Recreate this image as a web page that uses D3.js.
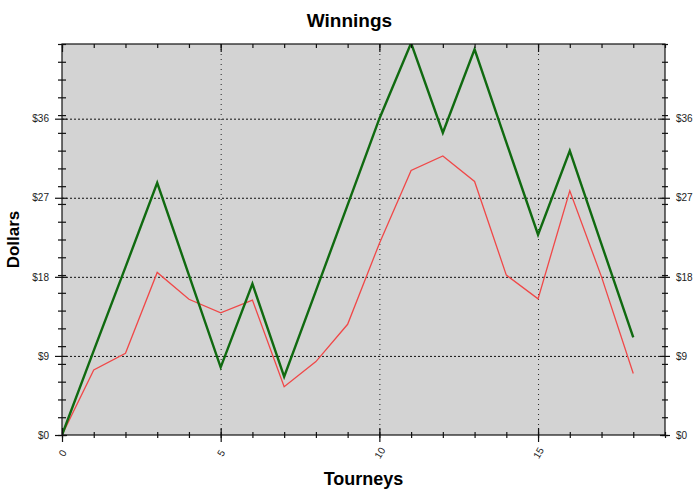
<!DOCTYPE html>
<html>
<head>
<meta charset="utf-8">
<script src="https://cdnjs.cloudflare.com/ajax/libs/d3/7.8.5/d3.min.js"></script>
<style>
body{margin:0;background:#fff;}
#svg{width:700px;height:492px;display:block;font-family:"Liberation Sans",Arial,sans-serif;}
.tick text{font-size:10px;fill:#222;}
</style>
</head>
<body>
<svg id="svg" width="700" height="492"></svg>
<script>
// tourney index and the two series
var tourneys=[0,1,2,3,4,5,6,7,8,9,10,11,12,13,14,15,16,17,18];
var greenQty=[0,9.6,19.1,28.7,18.2,7.7,17.2,6.65,16.4,26.2,36.0,44.6,34.4,43.9,33.3,22.8,32.35,21.7,11.1];
var redQty=[0,7.4,9.3,18.5,15.45,13.9,15.35,5.5,8.35,12.6,21.8,30.1,31.75,28.85,18.2,15.5,27.8,18.0,7.0];

var xTicks=[0,5,10,15];
var xMinor=[0,1,2,3,4,5,6,7,8,9,10,11,12,13,14,15,16,17,18,19];
var yTicks=[0,9,18,27,36];
var yLabels=["$0","$9","$18","$27","$36"];
var xMax=19, yMax=44.5;

var svg=d3.select("#svg");
var padding={top:44,right:35,bottom:57,left:62};
var chartArea={
    "width":700-padding.left-padding.right,
    "height":492-padding.top-padding.bottom
};

var xScale=d3.scaleLinear().domain([0,xMax]).range([0,chartArea.width]);
var yScale=d3.scaleLinear().domain([0,yMax]).range([chartArea.height,0]);

// minor y ticks split the axis into 22 equal steps
var yMinor=d3.range(0,23).map(function(i){return i*yMax/22;});

var g=svg.append("g").attr("transform","translate("+padding.left+","+padding.top+")");

g.append("rect")
    .attr("width",chartArea.width)
    .attr("height",chartArea.height)
    .attr("fill","#d3d3d3");

g.append("clipPath").attr("id","clip")
    .append("rect").attr("width",chartArea.width).attr("height",chartArea.height);

// grid
var hGrid=g.append("g")
    .call(d3.axisLeft(yScale).tickValues(yTicks.slice(1)).tickSize(-chartArea.width).tickFormat(""));
hGrid.select(".domain").remove();
hGrid.selectAll("line").attr("stroke","#111").attr("stroke-dasharray","2,2");

var vGrid=g.append("g")
    .attr("transform","translate(0,"+chartArea.height+")")
    .call(d3.axisBottom(xScale).tickValues(xTicks.slice(1)).tickSize(-chartArea.height).tickFormat(""));
vGrid.select(".domain").remove();
vGrid.selectAll("line").attr("stroke","#222").attr("stroke-dasharray","1,4");

// lines
var line=d3.line()
    .x(function(d,i){return xScale(tourneys[i]);})
    .y(function(d){return yScale(d);});

var lines=g.append("g").attr("clip-path","url(#clip)");
lines.append("path").datum(redQty)
    .attr("d",line).attr("fill","none")
    .attr("stroke","#f04848").attr("stroke-width",1.3);
lines.append("path").datum(greenQty)
    .attr("d",line).attr("fill","none")
    .attr("stroke","#106a10").attr("stroke-width",2.4)
    .attr("stroke-linejoin","miter");

// frame
g.append("rect")
    .attr("width",chartArea.width)
    .attr("height",chartArea.height)
    .attr("fill","none").attr("stroke","#111").attr("stroke-width",1.2);

function tickAxis(axisFn,tx,ty,size,vals,labels){
    var a=g.append("g").attr("transform","translate("+tx+","+ty+")")
        .call(axisFn.tickValues(vals).tickSize(size).tickFormat(labels?function(d,i){return labels[i];}:""));
    a.select(".domain").remove();
    a.selectAll("line").attr("stroke","#111").attr("stroke-width",1.2);
    return a;
}

// left axis
tickAxis(d3.axisLeft(yScale),0,0,4,yMinor);
tickAxis(d3.axisLeft(yScale),0,0,-4,yMinor);
tickAxis(d3.axisLeft(yScale).tickPadding(6),0,0,7,yTicks,yLabels);
tickAxis(d3.axisLeft(yScale),0,0,-5,yTicks);

// right axis
tickAxis(d3.axisRight(yScale),chartArea.width,0,3,yMinor);
tickAxis(d3.axisRight(yScale),chartArea.width,0,-3,yMinor);
tickAxis(d3.axisRight(yScale).tickPadding(6),chartArea.width,0,5,yTicks,yLabels);
tickAxis(d3.axisRight(yScale),chartArea.width,0,-5,yTicks);

// bottom axis
tickAxis(d3.axisBottom(xScale),0,chartArea.height,3,xMinor);
tickAxis(d3.axisBottom(xScale),0,chartArea.height,-3,xMinor);
tickAxis(d3.axisBottom(xScale),0,chartArea.height,-7,xTicks);
var xAxis=tickAxis(d3.axisBottom(xScale),0,chartArea.height,7,xTicks,xTicks.map(String));
xAxis.selectAll("text")
    .attr("y",0).attr("dy","0.35em")
    .attr("text-anchor","middle")
    .attr("transform","translate(0,18) rotate(-60)");

// top axis, ticks pointing inside
tickAxis(d3.axisTop(xScale),0,0,-4,xMinor);
tickAxis(d3.axisTop(xScale),0,0,-8,xTicks);

// titles
svg.append("text")
    .attr("x",349.5).attr("y",26.5)
    .attr("text-anchor","middle")
    .attr("font-size","19px").attr("font-weight","bold")
    .text("Winnings");

svg.append("text")
    .attr("x",padding.left+chartArea.width/2).attr("y",485)
    .attr("text-anchor","middle")
    .attr("font-size","18px").attr("font-weight","bold")
    .text("Tourneys");

svg.append("text")
    .attr("transform","translate(18.5,"+(padding.top+chartArea.height/2)+") rotate(-90)")
    .attr("text-anchor","middle")
    .attr("font-size","17px").attr("font-weight","bold")
    .text("Dollars");
</script>
</body>
</html>
